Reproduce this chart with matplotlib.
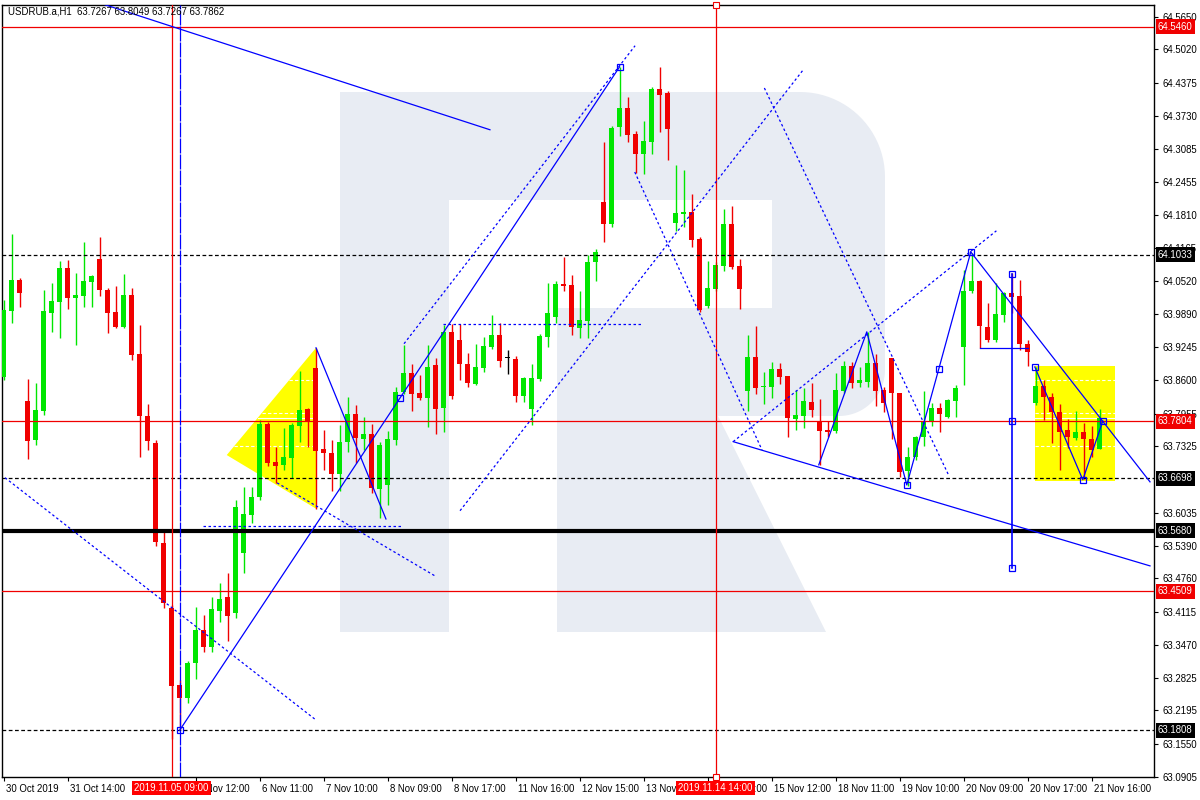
import numpy as np
import matplotlib.pyplot as plt
import matplotlib.transforms as mtransforms
from matplotlib.patches import Polygon

plt.rcParams['font.family'] = ['Liberation Sans', 'DejaVu Sans']

# USDRUB.a H1 candles, bar 0 = 30 Oct 2019
opens = [63.867, 63.995, 64.055, 63.820, 63.744, 63.801, 63.991, 64.012, 64.078, 64.020,
         64.024, 64.051, 64.096, 64.035, 63.993, 63.964, 64.026, 63.911, 63.791, 63.739,
         63.545, 63.419, 63.269, 63.244, 63.312, 63.376, 63.343, 63.413, 63.440, 63.409,
         63.525, 63.599, 63.634, 63.775, 63.702, 63.696, 63.710, 63.772, 63.805, 63.884,
         63.727, 63.719, 63.678, 63.741, 63.795, 63.746, 63.756, 63.649, 63.657, 63.744,
         63.838, 63.874, 63.836, 63.826, 63.890, 63.807, 63.954, 63.938, 63.892, 63.853,
         63.884, 63.925, 63.948, 63.903, 63.902, 63.830, 63.805, 63.863, 63.944, 63.983,
         64.047, 64.045, 63.962, 63.975, 64.090, 64.206, 64.163, 64.352, 64.388, 64.338,
         64.299, 64.322, 64.425, 64.418, 64.165, 64.183, 64.187, 64.134, 64.004, 64.037,
         64.082, 64.163, 64.082, 63.840, 63.905, 63.847, 63.847, 63.882, 63.869, 63.785,
         63.791, 63.818, 63.781, 63.764, 63.762, 63.840, 63.888, 63.855, 63.857, 63.894,
         63.841, 63.903, 63.836, 63.684, 63.711, 63.750, 63.779, 63.807, 63.789, 63.820,
         63.925, 64.033, 64.053, 63.964, 63.938, 63.987, 64.030, 64.024, 63.931, 63.816,
         63.849, 63.828, 63.799, 63.764, 63.748, 63.760, 63.746, 63.7267]
highs = [64.016, 64.144, 64.059, 63.863, 63.855, 64.035, 64.049, 64.092, 64.094, 64.068,
         64.129, 64.065, 64.138, 64.039, 64.043, 64.066, 64.039, 63.968, 63.814, 63.744,
         63.566, 63.424, 63.279, 63.316, 63.420, 63.405, 63.440, 63.467, 63.486, 63.628,
         63.653, 63.653, 63.783, 63.779, 63.731, 63.768, 63.777, 63.878, 63.807, 63.923,
         63.764, 63.744, 63.774, 63.828, 63.812, 63.789, 63.775, 63.741, 63.762, 63.847,
         63.929, 63.892, 63.871, 63.929, 63.903, 63.968, 63.970, 63.970, 63.913, 63.931,
         63.944, 63.987, 63.971, 63.919, 63.907, 63.867, 63.892, 63.950, 64.049, 64.053,
         64.099, 64.065, 64.033, 64.103, 64.115, 64.322, 64.354, 64.468, 64.410, 64.344,
         64.363, 64.429, 64.468, 64.421, 64.278, 64.268, 64.222, 64.138, 64.092, 64.090,
         64.193, 64.198, 64.096, 63.948, 63.966, 63.876, 63.896, 63.894, 63.869, 63.841,
         63.845, 63.855, 63.824, 63.781, 63.874, 63.898, 63.896, 63.886, 63.954, 63.911,
         63.847, 63.903, 63.836, 63.731, 63.752, 63.840, 63.816, 63.816, 63.824, 63.851,
         64.074, 64.107, 64.055, 64.010, 64.049, 64.032, 64.068, 64.055, 63.938, 63.886,
         63.861, 63.836, 63.814, 63.785, 63.801, 63.777, 63.772, 63.8049]
lows = [63.861, 63.971, 64.002, 63.708, 63.735, 63.793, 63.954, 63.942, 63.999, 63.929,
        64.002, 64.002, 64.024, 63.952, 63.962, 63.962, 63.900, 63.711, 63.725, 63.539,
        63.419, 63.164, 63.182, 63.234, 63.281, 63.333, 63.333, 63.391, 63.354, 63.399,
        63.486, 63.583, 63.628, 63.694, 63.661, 63.686, 63.671, 63.741, 63.731, 63.611,
        63.686, 63.645, 63.645, 63.721, 63.700, 63.725, 63.642, 63.593, 63.618, 63.735,
        63.834, 63.801, 63.822, 63.770, 63.756, 63.760, 63.824, 63.861, 63.847, 63.851,
        63.876, 63.921, 63.886, 63.872, 63.818, 63.818, 63.774, 63.859, 63.925, 63.971,
        64.033, 63.948, 63.942, 63.942, 64.053, 64.129, 64.158, 64.334, 64.322, 64.262,
        64.260, 64.299, 64.342, 64.288, 64.150, 64.158, 64.119, 63.993, 64.000, 64.033,
        64.072, 64.076, 63.999, 63.801, 63.834, 63.814, 63.826, 63.853, 63.750, 63.764,
        63.768, 63.789, 63.696, 63.750, 63.758, 63.836, 63.845, 63.847, 63.847, 63.810,
        63.799, 63.746, 63.673, 63.655, 63.706, 63.733, 63.772, 63.760, 63.787, 63.789,
        63.851, 64.030, 63.923, 63.935, 63.935, 63.973, 63.991, 63.919, 63.888, 63.812,
        63.783, 63.739, 63.686, 63.729, 63.744, 63.669, 63.711, 63.7267]
closes = [63.997, 64.055, 64.030, 63.742, 63.803, 63.995, 64.014, 64.078, 64.020, 64.026,
          64.053, 64.063, 64.035, 63.991, 63.964, 64.026, 63.909, 63.791, 63.742, 63.547,
          63.428, 63.267, 63.244, 63.312, 63.376, 63.343, 63.417, 63.436, 63.403, 63.614,
          63.601, 63.634, 63.775, 63.700, 63.694, 63.711, 63.774, 63.803, 63.781, 63.723,
          63.719, 63.678, 63.741, 63.795, 63.748, 63.756, 63.651, 63.735, 63.746, 63.838,
          63.874, 63.834, 63.826, 63.886, 63.805, 63.954, 63.830, 63.892, 63.855, 63.886,
          63.927, 63.948, 63.898, 63.903, 63.830, 63.865, 63.865, 63.946, 63.991, 64.047,
          64.043, 63.964, 63.977, 64.090, 64.109, 64.163, 64.350, 64.388, 64.336, 64.299,
          64.324, 64.425, 64.414, 64.348, 64.185, 64.187, 64.132, 63.997, 64.039, 64.084,
          64.163, 64.080, 64.037, 63.905, 63.845, 63.849, 63.882, 63.867, 63.787, 63.793,
          63.820, 63.803, 63.762, 63.760, 63.841, 63.888, 63.855, 63.861, 63.894, 63.840,
          63.816, 63.836, 63.682, 63.711, 63.750, 63.779, 63.807, 63.795, 63.822, 63.845,
          64.033, 64.053, 63.966, 63.938, 63.989, 64.030, 64.022, 63.931, 63.915, 63.849,
          63.828, 63.799, 63.760, 63.750, 63.760, 63.746, 63.725, 63.7862]

# time axis labels every 8 bars (the one under the first date tag is hidden there)
xtick_pos = [0, 8] + list(range(24, 137, 8))
xtick_labels = ['30 Oct 2019', '31 Oct 14:00', '5 Nov 12:00', '6 Nov 11:00',
                '7 Nov 10:00', '8 Nov 09:00', '8 Nov 17:00', '11 Nov 16:00', '12 Nov 15:00',
                '13 Nov 14:00', '14 Nov 13:00', '15 Nov 12:00', '18 Nov 11:00', '19 Nov 10:00',
                '20 Nov 09:00', '20 Nov 17:00', '21 Nov 16:00']
price_ticks = [64.5650, 64.5020, 64.4375, 64.3730, 64.3085, 64.2455, 64.1810, 64.1165,
               64.0520, 63.9890, 63.9245, 63.8600, 63.7955, 63.7325, 63.6035,
               63.5390, 63.4760, 63.4115, 63.3470, 63.2825, 63.2195, 63.1550, 63.0905]

# horizontal levels
red_levels = [64.5460, 63.7804, 63.4509]
dash_levels = [64.1033, 63.6698, 63.1808]
thick_level = 63.5680

# marked bars
vline_red = [21, 89]
vline_blue = 22
date_marks = [(21, '2019.11.05 09:00'), (89, '2019.11.14 14:00')]

# analysis drawings (bar index, price)
solid_lines = [
    [(10.8, 64.598), (60.8, 64.346)],
    [(22, 63.1808), (77, 64.468)],
    [(39.06, 63.923), (47.8, 63.591)],
    [(91.2, 63.741), (143.3, 63.500)],
    [(101.9, 63.696), (107.9, 63.954), (112.9, 63.657), (116.9, 63.882), (120.9, 64.109)],
    [(120.9, 64.109), (143.3, 63.663)],
    [(122.0, 63.923), (128.0, 63.923)],
    [(128.9, 63.886), (134.9, 63.667), (137.4, 63.781)],
]
dotted_lines = [
    [(0.19, 63.671), (39.06, 63.201)],
    [(50.06, 63.931), (78.94, 64.509)],
    [(57.06, 63.607), (99.94, 64.462)],
    [(54.9, 63.969), (79.9, 63.969)],
    [(24.9, 63.578), (49.9, 63.578)],
    [(34.2, 63.661), (54.1, 63.479)],
    [(91.2, 63.741), (124.1, 64.150)],
    [(95.1, 64.427), (118.1, 63.677)],
    [(78.9, 64.264), (94.8, 63.725)],
]
anchors = [(22, 63.1808), (77, 64.468), (49.6, 63.826), (112.9, 63.657), (116.9, 63.882),
           (120.9, 64.109), (128.9, 63.886), (134.9, 63.667), (137.4, 63.781),
           (126, 64.066), (126, 63.781), (126, 63.496)]
blue_vline = (126, 63.496, 64.066)
triangle = [(27.9, 63.715), (39.06, 63.923), (39.06, 63.611)]
box = (128.9, 138.9, 63.665, 63.888)
fib_levels = [63.861, 63.797, 63.787, 63.733]

GREEN = '#00e600'
RED = '#f00000'
BLUE = '#0000ff'
FS = 6.9

fig = plt.figure(figsize=(12, 8), dpi=100)

# watermark logo in pixel space
bg = fig.add_axes([0, 0, 1, 1], zorder=0)
bg.set_xlim(0, 1200)
bg.set_ylim(800, 0)
bg.axis('off')


def arc(cx, cy, r, a0, a1, n=24):
    a = np.radians(np.linspace(a0, a1, n))
    return list(zip(cx + r * np.cos(a), cy - r * np.sin(a)))


logo = '#e8ecf3'
stem = [(340, 92), (449, 92), (449, 632), (340, 632)]
bowl = ([(449, 92)] + arc(800, 177, 85, 90, 0) + arc(839, 370, 46, 0, -90)
        + [(557, 416), (557, 308), (772, 308), (772, 200), (449, 200)])
leg = [(557, 416), (718, 416), (826, 632), (557, 632)]
for shape in (stem, bowl, leg):
    bg.add_patch(Polygon(shape, closed=True, fc=logo, ec='none'))

ax = fig.add_axes([2 / 1200, 23 / 800, 1152 / 1200, 772 / 800], zorder=1)
ax.patch.set_alpha(0)
ax.set_xlim(-0.19, 143.8)
ax.set_ylim(63.0906, 64.588)

# yellow shapes
ax.add_patch(Polygon(triangle, closed=True, fc='#ffff00', ec='none', zorder=1))
ax.add_patch(Polygon([(box[0], box[2]), (box[1], box[2]), (box[1], box[3]), (box[0], box[3])],
                     closed=True, fc='#ffff00', ec='none', zorder=1))
(tx0, ty0), (tx1, ty1), _ = triangle
for k, lv in enumerate(fib_levels):
    ls = '-' if k == 2 else (0, (3, 2))
    xl = tx0 + (lv - ty0) / (ty1 - ty0) * (tx1 - tx0)
    ax.plot([xl, tx1], [lv, lv], color='white', lw=0.8, ls=ls, zorder=1.5)
    ax.plot([box[0], box[1]], [lv, lv], color='white', lw=0.8, ls=ls, zorder=1.5)

# candles
o, h, l, c = map(np.array, (opens, highs, lows, closes))
idx = np.arange(len(o))
cols = np.where(c > o, GREEN, np.where(c < o, RED, 'black'))
ax.vlines(idx, l, h, colors=cols, lw=1.0, zorder=3)
ax.bar(idx, np.maximum(np.abs(c - o), 0.0018), 0.64, bottom=np.minimum(o, c),
       color=cols, lw=0, zorder=3)

# levels
for lv in red_levels:
    ax.axhline(lv, color=RED, lw=0.9, zorder=4)
for lv in dash_levels:
    ax.axhline(lv, color='black', lw=0.9, ls=(0, (3, 2)), zorder=4)
ax.axhline(thick_level, color='black', lw=3.0, zorder=4)
for xv in vline_red:
    ax.axvline(xv, color=RED, lw=0.9, zorder=4)
ax.axvline(vline_blue, color=BLUE, lw=0.9, ls=(0, (12, 0.8)), zorder=4)
ax.plot([89, 89], [64.588, 63.0906], 's', ms=4, mfc='white', mec=RED, mew=0.8,
        clip_on=False, zorder=6)

# drawings
for seg in solid_lines:
    xs, ys = zip(*seg)
    ax.plot(xs, ys, color=BLUE, lw=0.9, zorder=5)
for seg in dotted_lines:
    xs, ys = zip(*seg)
    ax.plot(xs, ys, color=BLUE, lw=0.9, ls=(0, (2, 2)), zorder=5)
ax.plot([blue_vline[0]] * 2, blue_vline[1:], color=BLUE, lw=1.2, zorder=5)
ax_x, ax_y = zip(*anchors)
ax.plot(ax_x, ax_y, 's', ms=4.2, mfc='none', mec=BLUE, mew=0.9, zorder=6)

# axes styling
for sp in ax.spines.values():
    sp.set_color('black')
    sp.set_linewidth(1.0)
ax.yaxis.tick_right()
ax.set_yticks(price_ticks)
ax.set_yticklabels([f'{v:.4f}' for v in price_ticks])
ax.set_xticks(xtick_pos)
ax.set_xticklabels(xtick_labels)
ax.tick_params(axis='y', length=3, width=0.8, labelsize=FS, pad=3, colors='black')
ax.tick_params(axis='x', length=3, width=0.8, labelsize=FS, pad=2, colors='black')
shift = mtransforms.ScaledTranslation(2 / 100, 0, fig.dpi_scale_trans)
for lbl in ax.get_xticklabels():
    lbl.set_horizontalalignment('left')
    lbl.set_transform(lbl.get_transform() + shift)

# price tags on the right scale
ytr = ax.get_yaxis_transform()
tags = [(v, RED) for v in red_levels] + [(v, 'black') for v in dash_levels] + [(thick_level, 'black')]
for v, colr in tags:
    ax.text(1.0 + 4 / 1152, v, f'{v:.4f}', transform=ytr, ha='left', va='center',
            fontsize=FS, color='white', clip_on=False, zorder=10,
            bbox=dict(boxstyle='square,pad=0.25', fc=colr, ec='none'))

# time tags on the bottom scale
xtr = ax.get_xaxis_transform()
for xv, txt in date_marks:
    ax.text(xv, -11 / 772, txt, transform=xtr, ha='center', va='center', fontsize=FS,
            color='white', clip_on=False, zorder=10,
            bbox=dict(boxstyle='square,pad=0.25', fc='#ff0000', ec='none'))

fig.text(8 / 1200, 1 - 11 / 800, 'USDRUB.a,H1  63.7267 63.8049 63.7267 63.7862',
         fontsize=FS, va='center', ha='left', color='black', zorder=10)

fig.savefig('out.png', dpi=100)
